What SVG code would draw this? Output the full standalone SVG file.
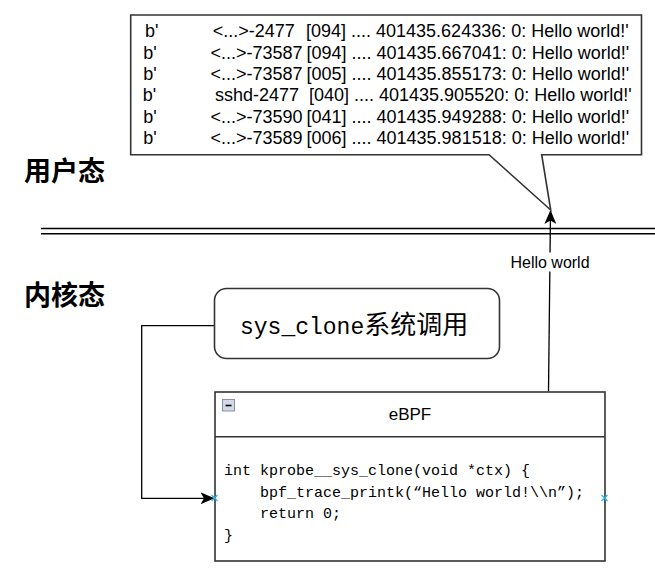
<svg xmlns="http://www.w3.org/2000/svg" width="655" height="584" viewBox="0 0 655 584">
<style>
.frame{fill:#fff;stroke:#333;stroke-width:1.6}
.conn{fill:none;stroke:#000;stroke-width:1.3}
.t{font-family:"Liberation Sans",Arial,sans-serif;fill:#000}
.out{font-size:18px}
.cjk{font-family:"Noto Sans CJK SC",sans-serif;font-weight:bold;font-size:27px;fill:#000}
.code{font-family:"Liberation Mono","Courier New",monospace;font-size:15px;fill:#000}
.mk{stroke:#29b6f2;stroke-width:1.2;fill:none}
</style>
<defs>
<marker id="arr" viewBox="0 0 14 12" refX="13" refY="6" markerWidth="14" markerHeight="12" markerUnits="userSpaceOnUse" orient="auto">
<path d="M0,0 L14,6 L0,12 L3.5,6 Z" fill="#000"/>
</marker>
</defs>
<rect width="655" height="584" fill="#fff"/>

<g id="labels">
<text class="cjk" x="24" y="181">用户态</text>
<text class="cjk" x="24" y="305">内核态</text>
</g>

<g id="boundary">
<line x1="41" y1="228.5" x2="655" y2="228.5" stroke="#000" stroke-width="1.4"/>
<line x1="41" y1="233.7" x2="655" y2="233.7" stroke="#000" stroke-width="1.4"/>
</g>

<g id="connectors">
<path class="conn" d="M214.5,325.7 H141.7 V498.3 H213.5" marker-end="url(#arr)"/>
<path class="conn" d="M548.5,391.5 L550.5,211" marker-end="url(#arr)"/>
<rect x="507" y="252.5" width="86" height="19" fill="#fff"/>
<text class="t" x="550" y="267.5" font-size="16" text-anchor="middle">Hello world</text>
</g>

<g id="output">
<path class="frame" d="M130.7,15 H641.5 V154.7 H541.7 L550.7,210 L489,154.7 H130.7 Z"/>
<g class="t out">
<text x="145" y="37.3">b'</text><text x="212.7" y="37.3">&lt;...&gt;-2477</text><text x="306" y="37.3">[094] .... 401435.624336: 0: Hello world!'</text>
<text x="143.3" y="58.7">b'</text><text x="210.5" y="58.7">&lt;...&gt;-73587</text><text x="306.5" y="58.7">[094] .... 401435.667041: 0: Hello world!'</text>
<text x="143.3" y="80">b'</text><text x="210.5" y="80">&lt;...&gt;-73587</text><text x="306.5" y="80">[005] .... 401435.855173: 0: Hello world!'</text>
<text x="142.7" y="101.3">b'</text><text x="215" y="101.3">sshd-2477</text><text x="309" y="101.3">[040] .... 401435.905520: 0: Hello world!'</text>
<text x="143.3" y="122.6">b'</text><text x="210.5" y="122.6">&lt;...&gt;-73590</text><text x="306.5" y="122.6">[041] .... 401435.949288: 0: Hello world!'</text>
<text x="143.3" y="143.9">b'</text><text x="210.5" y="143.9">&lt;...&gt;-73589</text><text x="306.5" y="143.9">[006] .... 401435.981518: 0: Hello world!'</text>
</g>
</g>

<g id="sys_clone">
<rect class="frame" x="214.5" y="288.5" width="285" height="70" rx="12" ry="12"/>
<text x="240" y="334"><tspan font-family="'Liberation Mono',monospace" font-size="23">sys_clone</tspan><tspan font-family="'Noto Sans CJK SC',sans-serif" font-size="26">系统调用</tspan></text>
</g>

<g id="ebpf">
<rect class="frame" x="215" y="392" width="390" height="169"/>
<line x1="215" y1="436.7" x2="605" y2="436.7" stroke="#333" stroke-width="1.6"/>
<rect x="222.5" y="399.5" width="12" height="11.5" fill="#d4d9e6" stroke="#8790a6" stroke-width="1"/>
<line x1="225.5" y1="405.5" x2="231.5" y2="405.5" stroke="#000" stroke-width="1.6"/>
<text class="t" x="410" y="420" font-size="17" text-anchor="middle">eBPF</text>
<text class="code" x="224" y="475">int kprobe__sys_clone(void *ctx) {</text>
<text class="code" x="260" y="496.5">bpf_trace_printk(“Hello world!\\n”);</text>
<text class="code" x="260" y="518">return 0;</text>
<text class="code" x="224" y="539.5">}</text>
<path class="mk" d="M211.5,495 L217.5,501 M217.5,495 L211.5,501"/>
<path class="mk" d="M601.5,495 L607.5,501 M607.5,495 L601.5,501"/>
</g>
</svg>
